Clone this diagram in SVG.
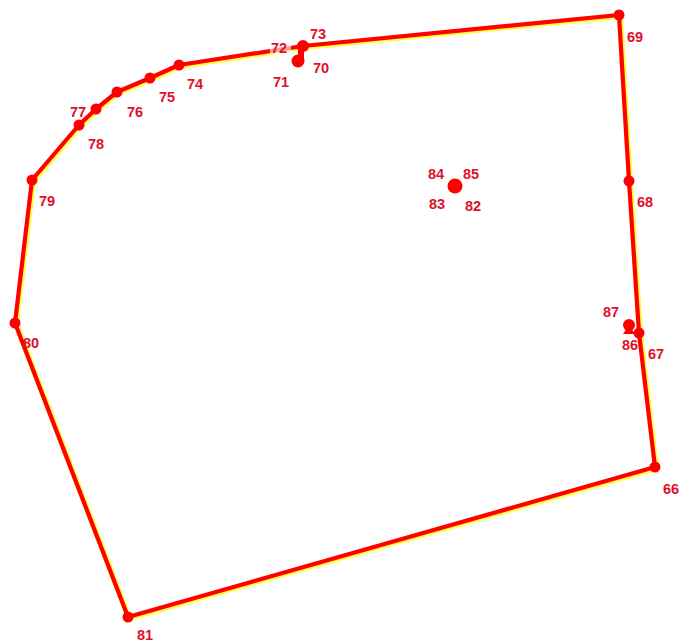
<svg xmlns="http://www.w3.org/2000/svg" width="682" height="642" viewBox="0 0 682 642">
<style>
.lbl{font-family:"Liberation Sans",Arial,sans-serif;font-size:14.5px;font-weight:bold;fill:#e0102a}
.pt{fill:#ff0000}
.halo{fill:none;stroke:#ffff40;stroke-width:6;stroke-linejoin:round}
.edge{fill:none;stroke:#ff0000;stroke-width:4.2;stroke-linejoin:round}
</style>
<rect width="682" height="642" fill="#ffffff"/>
<g id="connectors">
<polygon class="halo" transform="translate(1,1)" points="655,467 639,333 629,181 619,15 303,46 179,65 150,78 117,92 96,109 79,125 32,180 15,323 128,617"/>
<polygon class="edge" points="655,467 639,333 629,181 619,15 303,46 179,65 150,78 117,92 96,109 79,125 32,180 15,323 128,617"/>
</g>
<g id="n66"><circle class="pt" cx="655" cy="467" r="5.5"/><text class="lbl" x="663" y="494">66</text></g>
<g id="n67"><circle class="pt" cx="639" cy="333" r="5.5"/><text class="lbl" x="648" y="359">67</text></g>
<g id="n68"><circle class="pt" cx="629" cy="181" r="5.5"/><text class="lbl" x="637" y="207">68</text></g>
<g id="n69"><circle class="pt" cx="619" cy="15" r="5.5"/><text class="lbl" x="627" y="42">69</text></g>
<g id="n70"><circle class="pt" cx="298" cy="61" r="6.5"/><text class="lbl" x="313" y="73">70</text></g>
<g id="n71"><text class="lbl" x="273" y="87">71</text></g>
<g id="n72"><rect x="270" y="41" width="21" height="13" fill="#ffffff" opacity="0.6"/><text class="lbl" x="271" y="53">72</text></g>
<g id="n73"><circle class="pt" cx="303" cy="46" r="6"/><rect x="298" y="46" width="6" height="14" fill="#ff0000"/><text class="lbl" x="310" y="39">73</text></g>
<g id="n74"><circle class="pt" cx="179" cy="65" r="5.5"/><text class="lbl" x="187" y="89">74</text></g>
<g id="n75"><circle class="pt" cx="150" cy="78" r="5.5"/><text class="lbl" x="159" y="102">75</text></g>
<g id="n76"><circle class="pt" cx="117" cy="92" r="5.5"/><text class="lbl" x="127" y="117">76</text></g>
<g id="n77"><circle class="pt" cx="96" cy="109" r="5.5"/><text class="lbl" x="70" y="117">77</text></g>
<g id="n78"><circle class="pt" cx="79" cy="125" r="5.5"/><text class="lbl" x="88" y="149">78</text></g>
<g id="n79"><circle class="pt" cx="32" cy="180" r="5.5"/><text class="lbl" x="39" y="206">79</text></g>
<g id="n80"><circle class="pt" cx="15" cy="323" r="5.5"/><text class="lbl" x="23" y="348">80</text></g>
<g id="n81"><circle class="pt" cx="128" cy="617" r="5.5"/><text class="lbl" x="137" y="640">81</text></g>
<g id="n82_85"><circle class="pt" cx="455" cy="186" r="7.5"/>
<text class="lbl" x="428" y="179">84</text><text class="lbl" x="463" y="179">85</text>
<text class="lbl" x="429" y="209">83</text><text class="lbl" x="465" y="211">82</text></g>
<g id="n86_87"><circle class="pt" cx="629" cy="325" r="6"/><polygon class="pt" points="629,325 623,334 635,334"/>
<text class="lbl" x="603" y="317">87</text><text class="lbl" x="622" y="350">86</text></g>
</svg>
